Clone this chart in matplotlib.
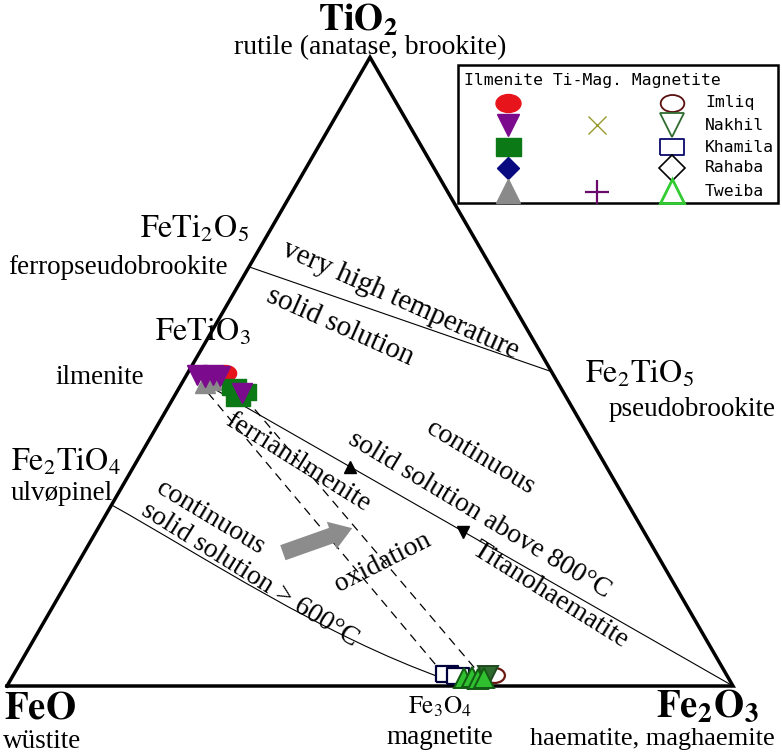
import matplotlib
matplotlib.use('Agg')
import matplotlib.pyplot as plt
from matplotlib.path import Path
from matplotlib.patches import PathPatch, FancyArrow, Rectangle
import numpy as np

plt.rcParams['font.family'] = ['Liberation Serif', 'DejaVu Serif']
plt.rcParams['mathtext.fontset'] = 'stix'

# compositions as mole fractions (TiO2, Fe2O3); FeO is the remainder
# ilmenite analyses
imliq_ilm_ti = [0.498]
imliq_ilm_hem = [0.051]
rahaba_ilm_ti = [0.490]
rahaba_ilm_hem = [0.035]
tweiba_ilm_ti = [0.482, 0.487]
tweiba_ilm_hem = [0.032, 0.039]
khamila_ilm_ti = [0.476, 0.468, 0.458]
khamila_ilm_hem = [0.074, 0.093, 0.089]
nakhil_ilm_ti = [0.495, 0.492, 0.495, 0.493, 0.466]
nakhil_ilm_hem = [0.014, 0.027, 0.036, 0.047, 0.091]

# magnetite analyses
khamila_mag_ti = [0.019, 0.016]
khamila_mag_hem = [0.597, 0.613]
imliq_mag_ti = [0.018]
imliq_mag_hem = [0.662]
nakhil_mag_ti = [0.016]
nakhil_mag_hem = [0.655]
tweiba_mag_ti = [0.012, 0.014, 0.011, 0.013]
tweiba_mag_hem = [0.624, 0.634, 0.643, 0.651]

# reference joins
high_t_ti = [2 / 3, 0.5]          # FeTi2O5 -> Fe2TiO5
high_t_hem = [0.0, 0.5]
ilm_hem_ti = [0.472, 0.0]         # ferrian ilmenite -> Fe2O3
ilm_hem_hem = [0.050, 1.0]
ilm_hem_marks_ti = [0.348, 0.245]
ilm_hem_marks_hem = [0.298, 0.506]
usp_mag_ti = [0.288, 0.205, 0.080, 0.011]   # Fe2TiO4 -> Fe3O4 (bezier controls)
usp_mag_hem = [0.0, 0.170, 0.395, 0.598]
oxid_a_ti = [0.466, 0.022]
oxid_a_hem = [0.044, 0.588]
oxid_b_ti = [0.458, 0.022]
oxid_b_hem = [0.099, 0.638]
oxid_arrow_ti = [0.212, 0.251]
oxid_arrow_hem = [0.274, 0.350]

H = np.sqrt(3) / 2


def tern(ti, hem):
    ti = np.asarray(ti, float)
    hem = np.asarray(hem, float)
    return hem + ti / 2, ti * H


def px(x, y):
    # reference pixel position -> axes data units (for labels only)
    return (x - 7) / 726, (686 - y) / 726


fig = plt.figure(figsize=(7.82, 7.53), dpi=100)
ax = fig.add_axes([0, 0, 1, 1])
ax.set_xlim(-7 / 726, 775 / 726)
ax.set_ylim(-67 / 726, 686 / 726)
ax.set_aspect('equal')
ax.axis('off')

# triangle frame
fx, fy = tern([0, 0, 1, 0], [0, 1, 0, 0])
ax.plot(fx, fy, color='black', lw=2.5, solid_joinstyle='miter', zorder=3)

# joins
x, y = tern(high_t_ti, high_t_hem)
ax.plot(x, y, color='black', lw=0.8)
x, y = tern(ilm_hem_ti, ilm_hem_hem)
ax.plot(x, y, color='black', lw=0.8)
x, y = tern(ilm_hem_marks_ti[:1], ilm_hem_marks_hem[:1])
ax.plot(x, y, marker='^', color='black', ms=9, ls='none')
x, y = tern(ilm_hem_marks_ti[1:], ilm_hem_marks_hem[1:])
ax.plot(x, y, marker='v', color='black', ms=9, ls='none')
for t, h in [(oxid_a_ti, oxid_a_hem), (oxid_b_ti, oxid_b_hem)]:
    x, y = tern(t, h)
    ax.plot(x, y, color='black', lw=0.9, dashes=(7, 5))
x, y = tern(usp_mag_ti, usp_mag_hem)
curve = Path(np.column_stack([x, y]), [Path.MOVETO, Path.CURVE4, Path.CURVE4, Path.CURVE4])
ax.add_patch(PathPatch(curve, fill=False, lw=0.8, color='black'))

x, y = tern(oxid_arrow_ti, oxid_arrow_hem)
ax.add_patch(FancyArrow(x[0], y[0], x[1] - x[0], y[1] - y[0], width=0.022,
                        head_width=0.04, head_length=0.03, length_includes_head=True,
                        color='#8c8c8c', lw=0, zorder=2))

# marker shapes
ell = Path(Path.unit_circle().vertices * [1, 0.72], Path.unit_circle().codes)
rect = [(-1, -0.7), (1, -0.7), (1, 0.7), (-1, 0.7), (-1, -0.7)]


def pts(t, h, **kw):
    x, y = tern(t, h)
    ax.plot(x, y, ls='none', zorder=4, **kw)


pts(rahaba_ilm_ti, rahaba_ilm_hem, marker='D', color='#0a0a80', ms=10)
pts(imliq_ilm_ti, imliq_ilm_hem, marker=ell, color='#e8141c', ms=16)
pts(tweiba_ilm_ti, tweiba_ilm_hem, marker='^', color='#8a8a8a', ms=15)
pts(khamila_ilm_ti, khamila_ilm_hem, marker=rect, color='#0b7a16', ms=17)
pts(nakhil_ilm_ti, nakhil_ilm_hem, marker='v', color='#7b0a8c', ms=15)

pts(khamila_mag_ti, khamila_mag_hem, marker=rect, mfc='white', mec='#00003a', mew=1.6, ms=16)
pts(imliq_mag_ti, imliq_mag_hem, marker=ell, mfc='none', mec='#6a1a10', mew=1.6, ms=15)
pts(nakhil_mag_ti, nakhil_mag_hem, marker='v', mfc='#2f6b2f', mec='#1f4a1f', mew=1.4, ms=14)
pts(tweiba_mag_ti, tweiba_mag_hem, marker='^', mfc='#2fbf2f', mec='#135a13', mew=1.4, ms=15)

# legend box
lx, ly = px(458, 203)
lx2, ly2 = px(778, 65)
ax.add_patch(Rectangle((lx, ly), lx2 - lx, ly2 - ly, fill=True, fc='white',
                       ec='black', lw=1.8, zorder=5))
mono = 'DejaVu Sans Mono'
ax.text(*px(464, 81), 'Ilmenite Ti-Mag. Magnetite', family=mono, fontsize=11.8,
        ha='left', va='center', zorder=6)
rows = [103, 125, 147, 168, 191]
names = ['Imliq', 'Nakhil', 'Khamila', 'Rahaba', 'Tweiba']
ilm_leg = [dict(marker=ell, color='#e8141c', ms=18),
           dict(marker='v', color='#7b0a8c', ms=16),
           dict(marker=rect, color='#0b7a16', ms=18),
           dict(marker='D', color='#0a0a80', ms=11),
           dict(marker='^', color='#8a8a8a', ms=17)]
mag_leg = [dict(marker=ell, mfc='none', mec='#5a1010', mew=1.3, ms=17),
           dict(marker='v', mfc='none', mec='#2f6b2f', mew=1.3, ms=17),
           dict(marker=rect, mfc='none', mec='#0a0a6a', mew=1.3, ms=17),
           dict(marker='D', mfc='none', mec='black', mew=1.2, ms=13),
           dict(marker='^', mfc='none', mec='#33cc33', mew=2.0, ms=17)]
for r, n, a, b in zip(rows, names, ilm_leg, mag_leg):
    ax.plot(*px(508, r), ls='none', zorder=6, **a)
    ax.plot(*px(672, r), ls='none', zorder=6, **b)
    ax.text(*px(705, r), n, family=mono, fontsize=11.8, ha='left', va='center', zorder=6)
ax.plot(*px(597, 125), marker='x', color='#9a9a30', ms=13, mew=1.0, ls='none', zorder=6)
ax.plot(*px(597, 192), marker='+', color='#6a0a6a', ms=17, mew=1.6, ls='none', zorder=6)

# labels
labels = [
    (358, 20, r'$\mathbf{TiO_2}$', 27, 0),
    (370, 48, 'rutile (anatase, brookite)', 20, 0),
    (195, 229, r'$\mathrm{FeTi_2O_5}$', 23, 0),
    (118, 268, 'ferropseudobrookite', 19.5, 0),
    (203, 332, r'$\mathrm{FeTiO_3}$', 23, 0),
    (100, 377, 'ilmenite', 19.5, 0),
    (640, 374, r'$\mathrm{Fe_2TiO_5}$', 23, 0),
    (692, 410, 'pseudobrookite', 19.5, 0),
    (66, 462, r'$\mathrm{Fe_2TiO_4}$', 23, 0),
    (62, 493, 'ulvøpinel', 19.5, 0),
    (400, 300, 'very high temperature', 21, -24),
    (340, 327, 'solid solution', 21, -24),
    (298, 462, 'ferrianilmenite', 20, -32),
    (480, 458, 'continuous', 20, -31),
    (480, 515, 'solid solution above 800°C', 20, -31),
    (550, 595, 'Titanohaematite', 20, -32),
    (210, 518, 'continuous', 20, -31),
    (250, 575, 'solid solution > 600°C', 20, -32),
    (383, 562, 'oxidation', 20, 27),
    (40, 709, r'$\mathbf{FeO}$', 28, 0),
    (42, 741, 'wüstite', 19.5, 0),
    (440, 707, r'$\mathrm{Fe_3O_4}$', 18, 0),
    (440, 738, 'magnetite', 19.5, 0),
    (707, 708, r'$\mathbf{Fe_2O_3}$', 28, 0),
    (652, 739, 'haematite, maghaemite', 19, 0),
]
for lxp, lyp, s, fs, rot in labels:
    ax.text(*px(lxp, lyp), s, fontsize=fs, rotation=rot, rotation_mode='anchor',
            ha='center', va='center', zorder=2)

fig.savefig('out.png', dpi=100, facecolor='white')
